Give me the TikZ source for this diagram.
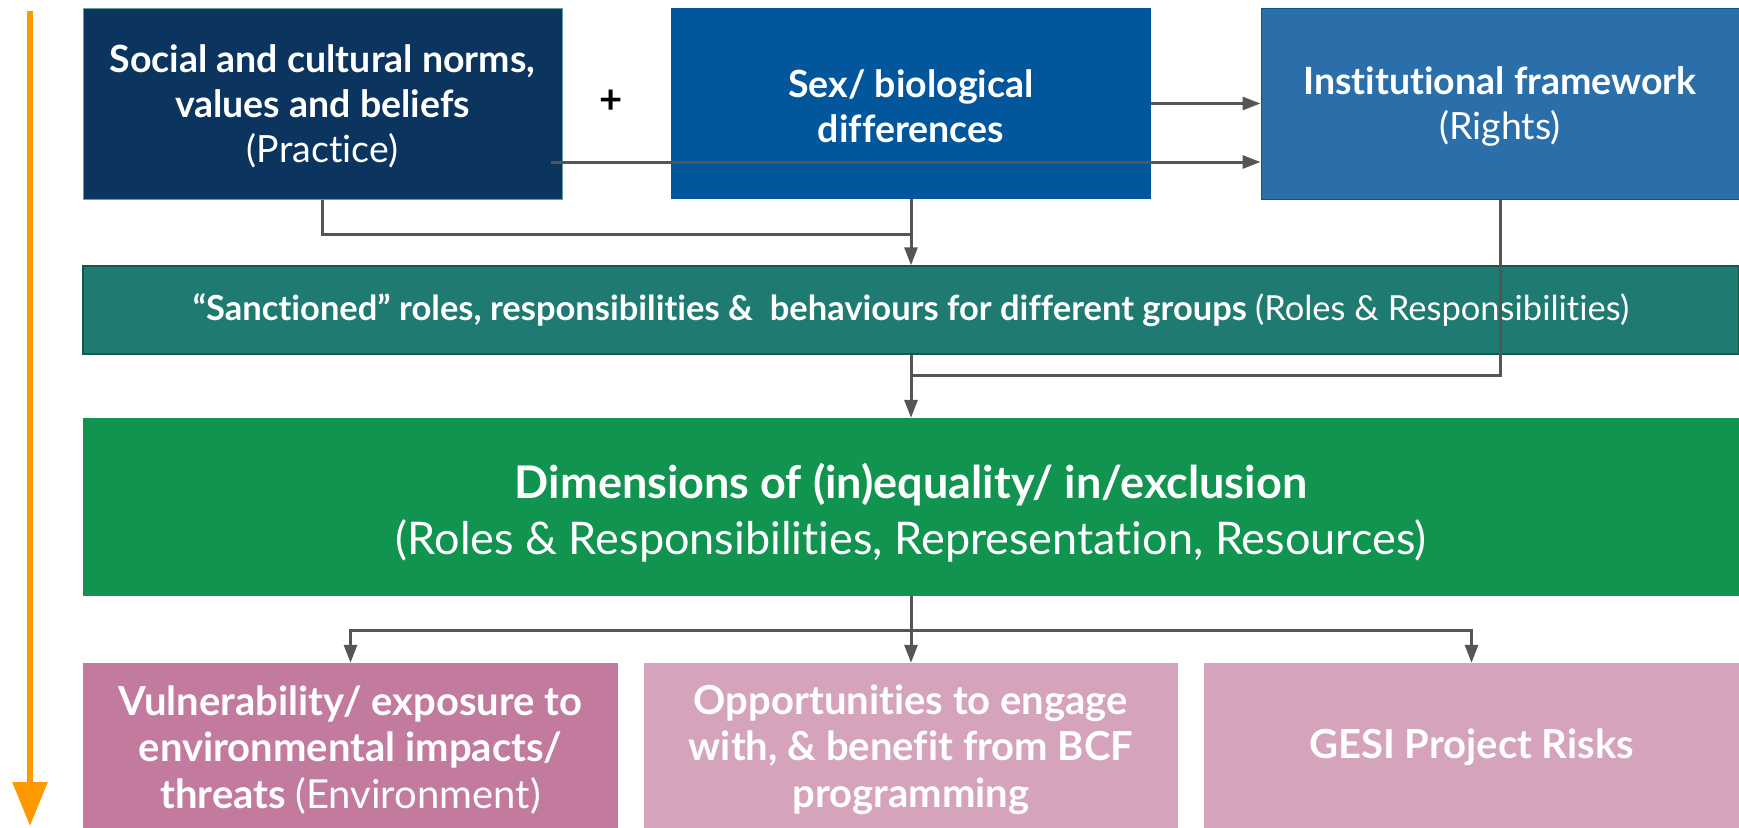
\documentclass[tikz,border=0pt]{standalone}
\usepackage{fontspec}
\setmainfont{Lato}[Ligatures=NoCommon]
\usetikzlibrary{arrows.meta,calc}
\definecolor{cnavy}{HTML}{0B355F}
\definecolor{cblue}{HTML}{02579C}
\definecolor{clblue}{HTML}{2B6FAA}
\definecolor{cteal}{HTML}{1F7B71}
\definecolor{cgreen}{HTML}{11944F}
\definecolor{cpinkA}{HTML}{C27A9F}
\definecolor{cpinkB}{HTML}{D5A3BC}
\definecolor{cgray}{HTML}{555555}
\definecolor{corange}{HTML}{FF9900}
\tikzset{
  box/.style={inner sep=0pt, text=white, align=center, anchor=center},
  topfont/.style={font=\fontsize{37.5}{45}\selectfont\bfseries},
  botfont/.style={font=\fontsize{40}{46.5}\selectfont\bfseries},
  conn/.style={draw=cgray, line width=3pt},
  arr/.style={conn, -{Triangle[length=18pt,width=13pt]}},
}
\begin{document}
\begin{tikzpicture}[x=1pt,y=-1pt]
\useasboundingbox (0,0) rectangle (1739,827);
\clip (0,0) rectangle (1739,827);
% top row
\node[box, topfont, fill=cnavy, draw=cteal!70, line width=1pt, minimum width=479pt, minimum height=191pt] (b1) at (322.5,103.5)
  {\rule{0pt}{33pt}Social and cultural norms,\\values and beliefs\\{\mdseries (Practice)}};
\node[box, topfont, fill=cblue, minimum width=480pt, minimum height=191pt] (b2) at (911,103.5)
  {\rule{0pt}{33pt}Sex/ biological\\differences};
\node[box, topfont, fill=clblue, draw=cblue, line width=1pt, minimum width=478pt, minimum height=191pt] (b3) at (1500,103.5)
  {\rule{0pt}{33pt}Institutional framework\\{\mdseries (Rights)}};
\node[font=\fontsize{40}{40}\selectfont\bfseries, inner sep=0pt] (plus) at (611,102) {+};
% middle bars
\node[box, fill=cteal, draw=cteal!70!black, line width=1.5pt, minimum width=1656pt, minimum height=88pt,
  font=\fontsize{34.5}{40}\selectfont\bfseries] (sanc) at (911,310)
  {“Sanctioned” roles, responsibilities \&\ \ behaviours for different groups {\mdseries (Roles \& Responsibilities)}};
\node[box, fill=cgreen, minimum width=1656pt, minimum height=178pt, font=\fontsize{45}{56}\selectfont] (dim) at (911,507)
  {\rule{0pt}{46pt}{\bfseries Dimensions of (in)equality/ in/exclusion}\\
   (Roles \& Responsibilities, Representation, Resources)};
% bottom boxes
\node[box, botfont, fill=cpinkA, minimum width=535pt, minimum height=168pt] (bA) at (350.5,747)
  {\rule{0pt}{35pt}Vulnerability/ exposure to\\environmental impacts/\\threats {\mdseries (Environment)}};
\node[box, botfont, fill=cpinkB, minimum width=534pt, minimum height=168pt] (bB) at (911,747)
  {\rule{0pt}{35pt}Opportunities to engage\\with, \& benefit from BCF\\programming};
\node[box, botfont, fill=cpinkB, minimum width=535pt, minimum height=168pt] (bC) at (1471.5,747)
  {GESI Project Risks};
% connectors
\draw[arr] (b2.east) -- (b3.west);
\coordinate (s1) at (551,162);
\draw[arr] (s1) -- (s1 -| b3.west);
\coordinate (j1) at ($(b2.south)+(0,35)$);
\draw[conn] (b1.south) |- (j1);
\draw[arr] (b2.south) -- (sanc.north);
\coordinate (j2) at ($(sanc.south)+(0,21)$);
\draw[conn] (b3.south) |- (j2);
\draw[arr] (sanc.south) -- (dim.north);
\coordinate (j3) at ($(dim.south)+(0,34)$);
\draw[arr] (dim.south) -- (bB.north);
\draw[arr] (j3) -| (bA.north);
\draw[arr] (j3) -| (bC.north);
% orange timeline arrow
\coordinate (o1) at (30,11);
\coordinate (o2) at (30,826);
\draw[draw=corange, line width=6pt, -{Triangle[length=44pt,width=34pt]}] (o1) -- (o2);
\end{tikzpicture}
\end{document}
